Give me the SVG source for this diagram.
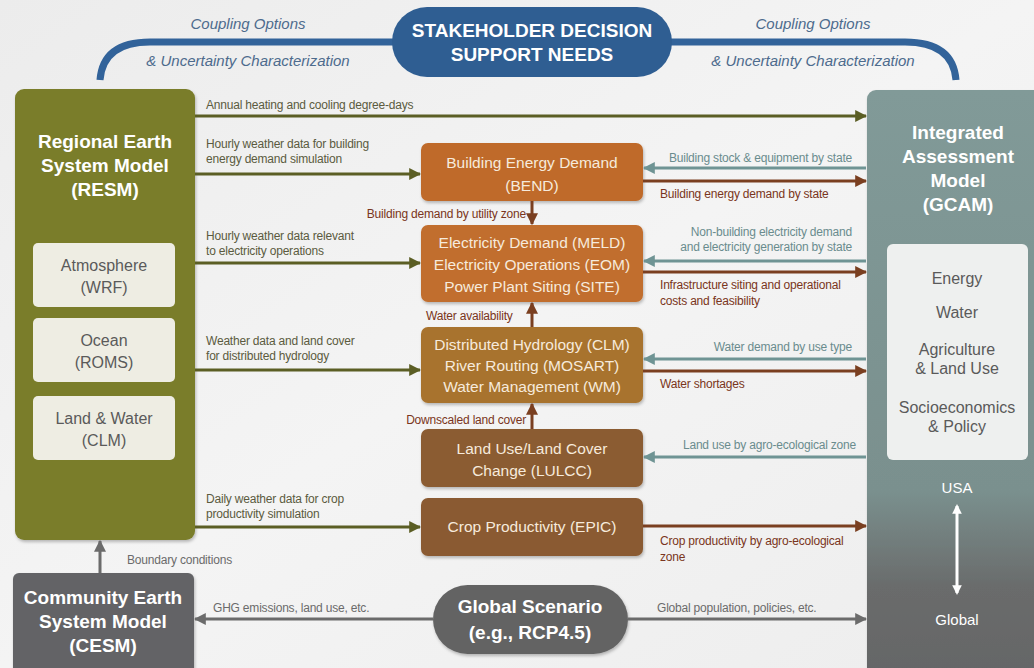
<svg xmlns="http://www.w3.org/2000/svg" width="1034" height="668" viewBox="0 0 1034 668">
  <defs>
    <linearGradient id="bg" x1="0" y1="0" x2="1" y2="1">
      <stop offset="0" stop-color="#ececec"/>
      <stop offset="0.5" stop-color="#f4f4f4"/>
      <stop offset="1" stop-color="#ededed"/>
    </linearGradient>
    <linearGradient id="gcamFill" x1="0" y1="0" x2="0" y2="1">
      <stop offset="0" stop-color="#819a98"/>
      <stop offset="0.68" stop-color="#7a908e"/>
      <stop offset="0.84" stop-color="#6a6c6c"/>
      <stop offset="1" stop-color="#646566"/>
    </linearGradient>
    <filter id="shadow" x="-10%" y="-10%" width="125%" height="130%">
      <feDropShadow dx="1" dy="2" stdDeviation="1.5" flood-color="#000" flood-opacity="0.25"/>
    </filter>
    <marker id="mOlive" viewBox="0 0 10 10" refX="9" refY="5" markerWidth="4" markerHeight="4" orient="auto">
      <path d="M0,0 L10,5 L0,10 z" fill="#5b5e24"/>
    </marker>
    <marker id="mBrown" viewBox="0 0 10 10" refX="9" refY="5" markerWidth="4" markerHeight="4" orient="auto">
      <path d="M0,0 L10,5 L0,10 z" fill="#7a3f20"/>
    </marker>
    <marker id="mTeal" viewBox="0 0 10 10" refX="9" refY="5" markerWidth="4" markerHeight="4" orient="auto">
      <path d="M0,0 L10,5 L0,10 z" fill="#6f9494"/>
    </marker>
    <marker id="mGray" viewBox="0 0 10 10" refX="9" refY="5" markerWidth="4" markerHeight="4" orient="auto">
      <path d="M0,0 L10,5 L0,10 z" fill="#6b6b6b"/>
    </marker>
    <marker id="mWhite" viewBox="0 0 10 10" refX="8" refY="5" markerWidth="3.2" markerHeight="3.2" orient="auto-start-reverse">
      <path d="M0,0 L10,5 L0,10 z" fill="#ffffff"/>
    </marker>
  </defs>
  <style>
    text { font-family: "Liberation Sans", Arial, sans-serif; }
    .title { font-weight: bold; fill: #ffffff; font-size: 19px; text-anchor: middle; }
    .sub { fill: #5a5a5a; font-size: 16px; text-anchor: middle; }
    .boxt { fill: #f6eadc; font-size: 15.5px; text-anchor: middle; }
    .lbl { font-size: 12px; letter-spacing: -0.2px; }
    .olive { fill: #5b5b40; }
    .brown { fill: #7a3520; }
    .teal { fill: #6a8c8e; }
    .gray { fill: #6b6b6b; }
    .coup { font-style: italic; fill: #4d6b8d; font-size: 15px; text-anchor: middle; }
    .aO { stroke: #5b5e24; stroke-width: 3; fill: none; marker-end: url(#mOlive); }
    .aB { stroke: #7a3f20; stroke-width: 3; fill: none; marker-end: url(#mBrown); }
    .aT { stroke: #6f9494; stroke-width: 3; fill: none; marker-end: url(#mTeal); }
    .aG { stroke: #6b6b6b; stroke-width: 3; fill: none; marker-end: url(#mGray); }
  </style>

  <rect x="0" y="0" width="1034" height="668" fill="url(#bg)"/>

  <!-- coupling bracket across the top -->
  <g id="coupling">
    <path d="M100,80 Q103,42 150,42 L400,42 M660,42 L905,42 Q953,42 956,80" stroke="#32639a" stroke-width="7" fill="none"/>
    <text class="coup" x="248" y="29">Coupling Options</text>
    <text class="coup" x="248" y="66">&amp; Uncertainty Characterization</text>
    <text class="coup" x="813" y="29">Coupling Options</text>
    <text class="coup" x="813" y="66">&amp; Uncertainty Characterization</text>
  </g>

  <g id="stakeholder">
    <rect x="392" y="7" width="280" height="70" rx="35" fill="#2f5e92"/>
    <text class="title" x="532" y="37" font-size="18">STAKEHOLDER DECISION</text>
    <text class="title" x="532" y="61" font-size="18">SUPPORT NEEDS</text>
  </g>

  <!-- Regional Earth System Model -->
  <g id="resm">
    <rect x="15" y="89" width="180" height="451" rx="9" fill="#7a7d2c" filter="url(#shadow)"/>
    <text class="title" x="105" y="148">Regional Earth</text>
    <text class="title" x="105" y="172">System Model</text>
    <text class="title" x="105" y="196">(RESM)</text>
    <g id="wrf">
      <rect x="33" y="243" width="142" height="64" rx="5" fill="#eeede3"/>
      <text class="sub" x="104" y="271">Atmosphere</text>
      <text class="sub" x="104" y="293">(WRF)</text>
    </g>
    <g id="roms">
      <rect x="33" y="318" width="142" height="64" rx="5" fill="#eeede3"/>
      <text class="sub" x="104" y="346">Ocean</text>
      <text class="sub" x="104" y="368">(ROMS)</text>
    </g>
    <g id="clm">
      <rect x="33" y="396" width="142" height="64" rx="5" fill="#eeede3"/>
      <text class="sub" x="104" y="424">Land &amp; Water</text>
      <text class="sub" x="104" y="446">(CLM)</text>
    </g>
  </g>

  <!-- Integrated Assessment Model -->
  <g id="gcam">
    <rect x="867" y="90" width="180" height="590" rx="9" fill="url(#gcamFill)" filter="url(#shadow)"/>
    <text class="title" x="958" y="139">Integrated</text>
    <text class="title" x="958" y="163">Assessment</text>
    <text class="title" x="958" y="187">Model</text>
    <text class="title" x="958" y="211">(GCAM)</text>
    <rect x="887" y="244" width="141" height="216" rx="6" fill="#eef0ef"/>
    <text class="sub" x="957" y="284">Energy</text>
    <text class="sub" x="957" y="318">Water</text>
    <text class="sub" x="957" y="355">Agriculture</text>
    <text class="sub" x="957" y="374">&amp; Land Use</text>
    <text class="sub" x="957" y="413">Socioeconomics</text>
    <text class="sub" x="957" y="432">&amp; Policy</text>
    <text x="957" y="493" fill="#ffffff" font-size="15" text-anchor="middle">USA</text>
    <line x1="957" y1="506" x2="957" y2="593" stroke="#ffffff" stroke-width="3" marker-start="url(#mWhite)" marker-end="url(#mWhite)"/>
    <text x="957" y="625" fill="#ffffff" font-size="15" text-anchor="middle">Global</text>
  </g>

  <!-- Community Earth System Model -->
  <g id="cesm">
    <rect x="13" y="573" width="181" height="105" rx="6" fill="#636466" filter="url(#shadow)"/>
    <text class="title" x="103" y="604">Community Earth</text>
    <text class="title" x="103" y="628">System Model</text>
    <text class="title" x="103" y="652">(CESM)</text>
  </g>

  <g id="scenario">
    <rect x="433" y="585" width="195" height="69" rx="34.5" fill="#646464" filter="url(#shadow)"/>
    <text class="title" x="530" y="613">Global Scenario</text>
    <text class="title" x="530" y="639">(e.g., RCP4.5)</text>
  </g>

  <!-- sector models in the middle column -->
  <g id="bend">
    <rect x="421" y="143" width="222" height="58" rx="7" fill="#bf6a2b" filter="url(#shadow)"/>
    <text class="boxt" x="532" y="168">Building Energy Demand</text>
    <text class="boxt" x="532" y="191">(BEND)</text>
  </g>
  <g id="meld">
    <rect x="421" y="225" width="222" height="77" rx="7" fill="#c16e2e" filter="url(#shadow)"/>
    <text class="boxt" x="532" y="248">Electricity Demand  (MELD)</text>
    <text class="boxt" x="532" y="270">Electricity Operations  (EOM)</text>
    <text class="boxt" x="532" y="292">Power Plant Siting (SITE)</text>
  </g>
  <g id="hydro">
    <rect x="421" y="327" width="222" height="76" rx="7" fill="#a8732f" filter="url(#shadow)"/>
    <text class="boxt" x="532" y="350">Distributed Hydrology (CLM)</text>
    <text class="boxt" x="532" y="371">River Routing (MOSART)</text>
    <text class="boxt" x="532" y="392">Water Management  (WM)</text>
  </g>
  <g id="lulcc">
    <rect x="421" y="429" width="222" height="58" rx="7" fill="#8b5b31" filter="url(#shadow)"/>
    <text class="boxt" x="532" y="454">Land Use/Land Cover</text>
    <text class="boxt" x="532" y="476">Change (LULCC)</text>
  </g>
  <g id="epic">
    <rect x="421" y="498" width="222" height="58" rx="7" fill="#8a5a30" filter="url(#shadow)"/>
    <text class="boxt" x="532" y="532">Crop Productivity (EPIC)</text>
  </g>

  <!-- data exchange connectors -->
  <g id="connectors">
    <!-- RESM outputs -->
    <line class="aO" x1="195" y1="116" x2="866" y2="116"/>
    <text class="lbl olive" x="206" y="109">Annual heating and cooling degree-days</text>
    <line class="aO" x1="195" y1="174" x2="420" y2="174"/>
    <text class="lbl olive" x="206" y="148">Hourly weather data for building</text>
    <text class="lbl olive" x="206" y="163">energy demand simulation</text>
    <line class="aO" x1="195" y1="263" x2="420" y2="263"/>
    <text class="lbl olive" x="206" y="240">Hourly weather data relevant</text>
    <text class="lbl olive" x="206" y="255">to electricity operations</text>
    <line class="aO" x1="195" y1="370" x2="420" y2="370"/>
    <text class="lbl olive" x="206" y="345">Weather data and land cover</text>
    <text class="lbl olive" x="206" y="360">for distributed hydrology</text>
    <line class="aO" x1="195" y1="527" x2="420" y2="527"/>
    <text class="lbl olive" x="206" y="503">Daily weather data for crop</text>
    <text class="lbl olive" x="206" y="518">productivity simulation</text>

    <!-- links between sector models -->
    <line class="aB" x1="532" y1="201" x2="532" y2="224"/>
    <text class="lbl brown" x="526" y="218" text-anchor="end">Building demand by utility zone</text>
    <line class="aB" x1="532" y1="327" x2="532" y2="303"/>
    <text class="lbl brown" x="426" y="320" fill="#6e4a2c">Water availability</text>
    <line class="aB" x1="532" y1="429" x2="532" y2="404"/>
    <text class="lbl brown" x="526" y="424" text-anchor="end">Downscaled land cover</text>

    <!-- GCAM exchanges -->
    <line class="aT" x1="866" y1="168" x2="644" y2="168"/>
    <text class="lbl teal" x="852" y="162" text-anchor="end">Building stock &amp; equipment by state</text>
    <line class="aB" x1="643" y1="181" x2="866" y2="181"/>
    <text class="lbl brown" x="660" y="198">Building energy demand by state</text>
    <line class="aT" x1="866" y1="261" x2="644" y2="261"/>
    <text class="lbl teal" x="852" y="236" text-anchor="end">Non-building electricity demand</text>
    <text class="lbl teal" x="852" y="251" text-anchor="end">and electricity generation by state</text>
    <line class="aB" x1="643" y1="272" x2="866" y2="272"/>
    <text class="lbl brown" x="660" y="289">Infrastructure siting and operational</text>
    <text class="lbl brown" x="660" y="305">costs and feasibility</text>
    <line class="aT" x1="866" y1="359" x2="644" y2="359"/>
    <text class="lbl teal" x="852" y="351" text-anchor="end">Water demand by use type</text>
    <line class="aB" x1="643" y1="371" x2="866" y2="371"/>
    <text class="lbl brown" x="660" y="388">Water shortages</text>
    <line class="aT" x1="866" y1="457" x2="644" y2="457"/>
    <text class="lbl teal" x="856" y="449" text-anchor="end">Land use by agro-ecological zone</text>
    <line class="aB" x1="643" y1="526" x2="866" y2="526"/>
    <text class="lbl brown" x="660" y="545">Crop productivity by agro-ecological</text>
    <text class="lbl brown" x="660" y="561">zone</text>

    <!-- global drivers -->
    <line class="aG" x1="100" y1="573" x2="100" y2="541"/>
    <text class="lbl gray" x="127" y="564">Boundary conditions</text>
    <line class="aG" x1="433" y1="619" x2="195" y2="619"/>
    <text class="lbl gray" x="213" y="612">GHG emissions, land use, etc.</text>
    <line class="aG" x1="628" y1="619" x2="866" y2="619"/>
    <text class="lbl gray" x="657" y="612">Global population, policies, etc.</text>
  </g>
</svg>
